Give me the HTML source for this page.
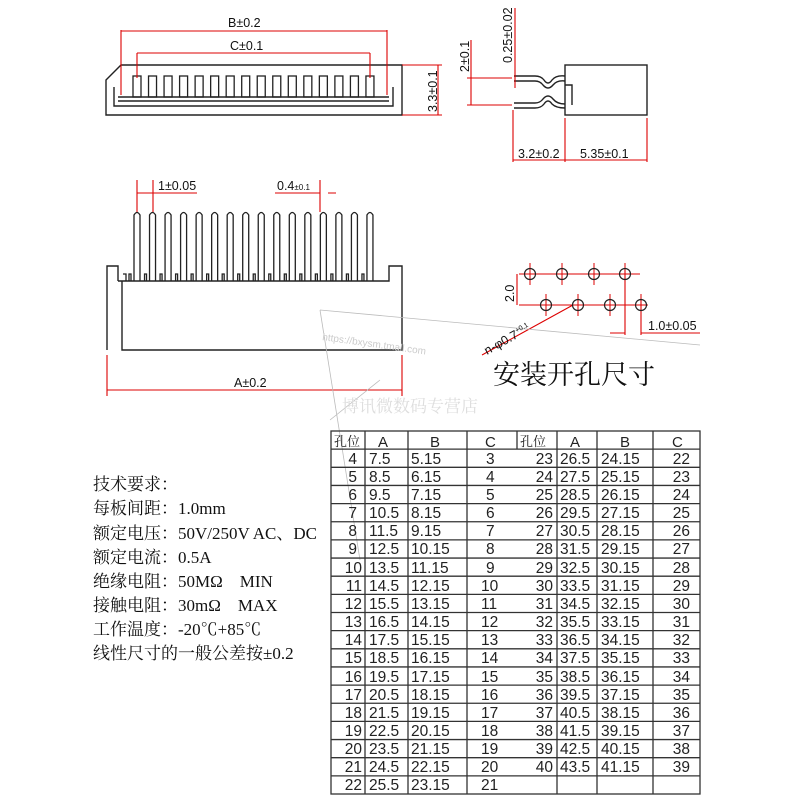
<!DOCTYPE html>
<html><head><meta charset="utf-8"><style>
html,body{margin:0;padding:0;background:#fff;}
svg{display:block;}
.t{font-family:"Liberation Sans","Noto Sans CJK SC",sans-serif;}
.s{font-family:"Liberation Serif","Noto Serif CJK SC",serif;}
</style></head><body>
<svg width="800" height="800" viewBox="0 0 800 800" xmlns="http://www.w3.org/2000/svg">
<g fill="none" stroke="#222" stroke-width="1.4">
<path d="M106 80 L121 65 L402 65 L402 115 L106 115 Z"/>
<path d="M114 87 L114 106 L393 106 L393 87"/>
<path d="M118 97 L389 97 M118 101 L389 101"/>
<rect x="565" y="65" width="82" height="50"/>
<path d="M565 85 L572 85 L572 105"/>
<path d="M514 76 L535 76 Q541 76 544 80 Q548 86 552 80 Q556 75 565 76 M514 81 L535 81 Q540 81 543 85 Q548 91 553 85 Q557 80 565 81"/>
<path d="M514 103 L535 103 Q540 103 543 99 Q548 93 553 99 Q557 104 565 104 M514 108 L535 108 Q541 108 544 104 Q548 98 552 104 Q556 108 565 108"/>
<path d="M107 350 L107 266 L118 266 L118 281 M122 281 L122 350 L402 350 L402 266 L389 266 L389 281 L118 281"/>
</g>
<g id="pins" fill="none" stroke="#222" stroke-width="1.3"></g>
<g fill="none" stroke="#d00" stroke-width="1.1">
<path d="M121 30 L121 95 M387 30 L387 95 M121 31 L387 31"/>
<path d="M137 53 L137 78 M370 53 L370 78 M137 53 L370 53"/>
<path d="M402 65 L442 65 M402 115 L442 115 M438 65 L438 115"/>
<path d="M515 8 L515 88 M471 40 L471 105 M467 78 L512 78 M467 105 L512 105"/>
<path d="M513 110 L513 162 M565 118 L565 162 M647 118 L647 162 M513 160 L647 160"/>
<path d="M137 180 L137 212 M153 180 L153 212 M137 193 L197 193"/>
<path d="M320 180 L320 212 M328 193 L336 193 M275 193 L320 193"/>
<path d="M107 355 L107 396 M402 355 L402 396 M107 390 L402 390"/>
<path d="M519 274 L640 274 M519 305 L648 305 M517 274 L517 305"/>
<path d="M625 270 L625 335 M641 300 L641 335 M610 333 L625 333 M641 333 L700 333"/>
<path d="M482 355 L573 305"/>
</g>
<g id="holes" fill="none" stroke="#d00" stroke-width="1"></g>
<g fill="none" stroke="#222" stroke-width="1.2">
<circle cx="530" cy="274" r="5.5"/><circle cx="562" cy="274" r="5.5"/><circle cx="594" cy="274" r="5.5"/><circle cx="625" cy="274" r="5.5"/>
<circle cx="546" cy="305" r="5.5"/><circle cx="578" cy="305" r="5.5"/><circle cx="610" cy="305" r="5.5"/><circle cx="641" cy="305" r="5.5"/>
</g>
<g stroke="#bbb" stroke-width="0.8" fill="none"><path d="M320 310 L700 345 M320 310 L360 560 M330 420 L380 380"/></g>
<text class="t" x="322" y="340" font-size="10" fill="#ccc" transform="rotate(8 322 340)">https://bxysm.tmall.com</text>
<text class="s" x="342" y="412" font-size="17" fill="#ddd">博讯微数码专营店</text>
<g class="t" font-size="12.5" fill="#111">
<text x="228" y="27">B±0.2</text>
<text x="230" y="50">C±0.1</text>
<text x="158" y="190">1±0.05</text>
<text x="277" y="190">0.4<tspan font-size="8">±0.1</tspan></text>
<text x="234" y="387">A±0.2</text>
<text x="518" y="158">3.2±0.2</text>
<text x="580" y="158">5.35±0.1</text>
<text x="648" y="330">1.0±0.05</text>
<text transform="translate(437 112) rotate(-90)">3.3±0.1</text>
<text transform="translate(512 63) rotate(-90)">0.25±0.02</text>
<text transform="translate(469 72) rotate(-90)">2±0.1</text>
<text transform="translate(514 302) rotate(-90)">2.0</text>
<text transform="translate(487 355) rotate(-29)">n-φ0.7<tspan font-size="7" dy="-5">+0.1</tspan></text>
</g>
<text class="s" x="493" y="384" font-size="27" fill="#111">安装开孔尺寸</text>
<g class="s" font-size="17" fill="#111">
<text x="93" y="490">技术要求：</text>
<text x="93" y="514">每板间距：1.0mm</text>
<text x="93" y="539">额定电压：50V/250V AC、DC</text>
<text x="93" y="563">额定电流：0.5A</text>
<text x="93" y="587">绝缘电阻：50MΩ　MIN</text>
<text x="93" y="611">接触电阻：30mΩ　MAX</text>
<text x="93" y="635">工作温度：-20℃+85℃</text>
<text x="93" y="659">线性尺寸的一般公差按±0.2</text>
</g>
<g id="tbl" fill="none" stroke="#333" stroke-width="1.3"></g>
<g class="t" font-size="15" fill="#222">
<text x="334" y="446" font-size="13" class="s">孔位</text><text x="378" y="447">A</text><text x="430" y="447">B</text><text x="485" y="447">C</text>
<text x="520" y="446" font-size="13" class="s">孔位</text><text x="570" y="447">A</text><text x="620" y="447">B</text><text x="672" y="447">C</text>
</g>
<script>
var NS="http://www.w3.org/2000/svg";
function el(p,t,a){var e=document.createElementNS(NS,t);for(var k in a)e.setAttribute(k,a[k]);document.getElementById(p).appendChild(e);return e;}
for(var i=0;i<16;i++){var x=134+i*15.53;
el("pins","path",{d:"M"+x+" 281 L"+x+" 215 Q"+(x+3)+" 210 "+(x+6)+" 215 L"+(x+6)+" 281"});
el("pins","path",{d:"M"+(x-5)+" 281 L"+(x-5)+" 274 L"+(x-3)+" 274 L"+(x-3)+" 281"});
el("pins","rect",{x:x-1,y:76,width:8,height:21});
}
el("pins","path",{d:"M123 274 L126 274 L126 281"});
var hy=[274,305],hx=[[530,562,594,625],[546,578,610,641]];
for(var r=0;r<2;r++)for(var j=0;j<4;j++){var cx=hx[r][j],cy=hy[r];el("holes","path",{d:"M"+cx+" "+(cy-11)+" L"+cx+" "+(cy+11)});}
var T0=431,RH=18.15,B0=T0+20*RH;
el("tbl","rect",{x:331,y:T0,width:369,height:B0-T0});
[365,408,467,557,597,653].forEach(function(x){el("tbl","line",{x1:x,y1:T0,x2:x,y2:B0});});
el("tbl","line",{x1:517,y1:T0,x2:517,y2:T0+RH});
for(var i=1;i<20;i++)el("tbl","line",{x1:331,y1:T0+i*RH,x2:700,y2:T0+i*RH});
</script>
<g class="t" font-size="15.5" fill="#222">
<g text-anchor="end">
<text x="357" y="464">4</text><text x="357" y="482">5</text><text x="357" y="500">6</text><text x="357" y="518">7</text><text x="357" y="536">8</text><text x="357" y="554">9</text><text x="362" y="573">10</text><text x="362" y="591">11</text><text x="362" y="609">12</text><text x="362" y="627">13</text><text x="362" y="645">14</text><text x="362" y="663">15</text><text x="362" y="682">16</text><text x="362" y="700">17</text><text x="362" y="718">18</text><text x="362" y="736">19</text><text x="362" y="754">20</text><text x="362" y="772">21</text><text x="362" y="790">22</text>
<text x="553" y="464">23</text><text x="553" y="482">24</text><text x="553" y="500">25</text><text x="553" y="518">26</text><text x="553" y="536">27</text><text x="553" y="554">28</text><text x="553" y="573">29</text><text x="553" y="591">30</text><text x="553" y="609">31</text><text x="553" y="627">32</text><text x="553" y="645">33</text><text x="553" y="663">34</text><text x="553" y="682">35</text><text x="553" y="700">36</text><text x="553" y="718">37</text><text x="553" y="736">38</text><text x="553" y="754">39</text><text x="553" y="772">40</text>
<text x="690" y="464">22</text><text x="690" y="482">23</text><text x="690" y="500">24</text><text x="690" y="518">25</text><text x="690" y="536">26</text><text x="690" y="554">27</text><text x="690" y="573">28</text><text x="690" y="591">29</text><text x="690" y="609">30</text><text x="690" y="627">31</text><text x="690" y="645">32</text><text x="690" y="663">33</text><text x="690" y="682">34</text><text x="690" y="700">35</text><text x="690" y="718">36</text><text x="690" y="736">37</text><text x="690" y="754">38</text><text x="690" y="772">39</text>
</g>
<g>
<text x="369" y="464">7.5</text><text x="369" y="482">8.5</text><text x="369" y="500">9.5</text><text x="369" y="518">10.5</text><text x="369" y="536">11.5</text><text x="369" y="554">12.5</text><text x="369" y="573">13.5</text><text x="369" y="591">14.5</text><text x="369" y="609">15.5</text><text x="369" y="627">16.5</text><text x="369" y="645">17.5</text><text x="369" y="663">18.5</text><text x="369" y="682">19.5</text><text x="369" y="700">20.5</text><text x="369" y="718">21.5</text><text x="369" y="736">22.5</text><text x="369" y="754">23.5</text><text x="369" y="772">24.5</text><text x="369" y="790">25.5</text>
<text x="411" y="464">5.15</text><text x="411" y="482">6.15</text><text x="411" y="500">7.15</text><text x="411" y="518">8.15</text><text x="411" y="536">9.15</text><text x="411" y="554">10.15</text><text x="411" y="573">11.15</text><text x="411" y="591">12.15</text><text x="411" y="609">13.15</text><text x="411" y="627">14.15</text><text x="411" y="645">15.15</text><text x="411" y="663">16.15</text><text x="411" y="682">17.15</text><text x="411" y="700">18.15</text><text x="411" y="718">19.15</text><text x="411" y="736">20.15</text><text x="411" y="754">21.15</text><text x="411" y="772">22.15</text><text x="411" y="790">23.15</text>
<text x="486" y="464">3</text><text x="486" y="482">4</text><text x="486" y="500">5</text><text x="486" y="518">6</text><text x="486" y="536">7</text><text x="486" y="554">8</text><text x="486" y="573">9</text><text x="481" y="591">10</text><text x="481" y="609">11</text><text x="481" y="627">12</text><text x="481" y="645">13</text><text x="481" y="663">14</text><text x="481" y="682">15</text><text x="481" y="700">16</text><text x="481" y="718">17</text><text x="481" y="736">18</text><text x="481" y="754">19</text><text x="481" y="772">20</text><text x="481" y="790">21</text>
<text x="560" y="464">26.5</text><text x="560" y="482">27.5</text><text x="560" y="500">28.5</text><text x="560" y="518">29.5</text><text x="560" y="536">30.5</text><text x="560" y="554">31.5</text><text x="560" y="573">32.5</text><text x="560" y="591">33.5</text><text x="560" y="609">34.5</text><text x="560" y="627">35.5</text><text x="560" y="645">36.5</text><text x="560" y="663">37.5</text><text x="560" y="682">38.5</text><text x="560" y="700">39.5</text><text x="560" y="718">40.5</text><text x="560" y="736">41.5</text><text x="560" y="754">42.5</text><text x="560" y="772">43.5</text>
<text x="601" y="464">24.15</text><text x="601" y="482">25.15</text><text x="601" y="500">26.15</text><text x="601" y="518">27.15</text><text x="601" y="536">28.15</text><text x="601" y="554">29.15</text><text x="601" y="573">30.15</text><text x="601" y="591">31.15</text><text x="601" y="609">32.15</text><text x="601" y="627">33.15</text><text x="601" y="645">34.15</text><text x="601" y="663">35.15</text><text x="601" y="682">36.15</text><text x="601" y="700">37.15</text><text x="601" y="718">38.15</text><text x="601" y="736">39.15</text><text x="601" y="754">40.15</text><text x="601" y="772">41.15</text>
</g>
</g>
</svg>
</body></html>
